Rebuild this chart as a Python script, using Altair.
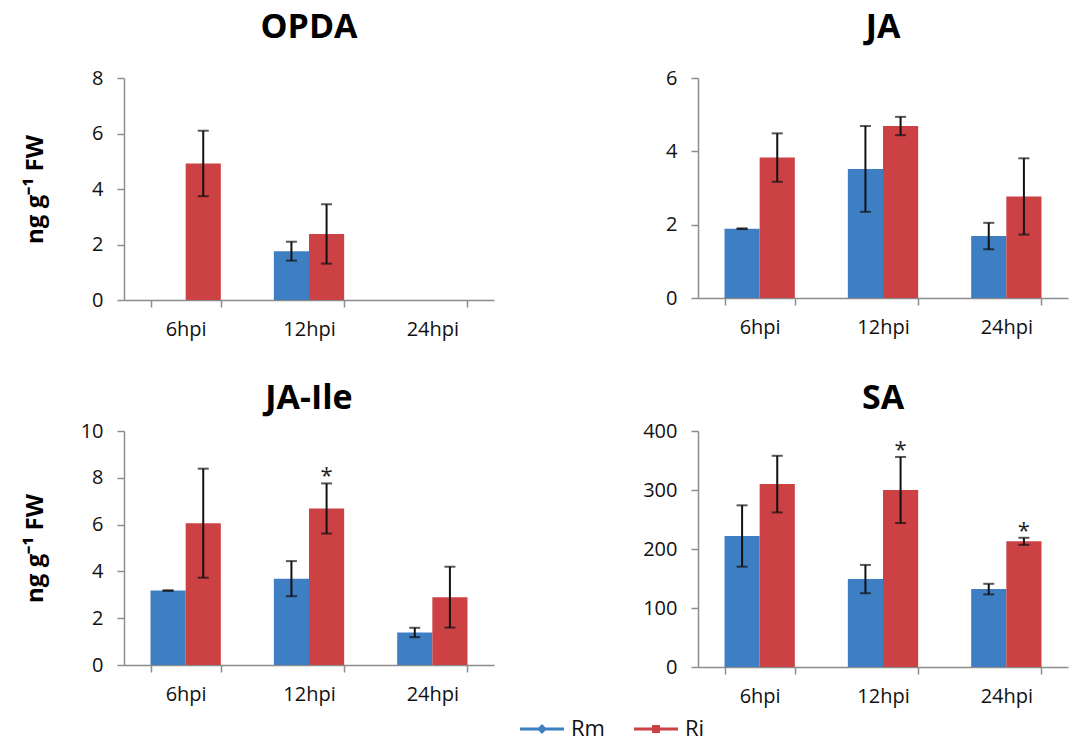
import altair as alt
import pandas as pd

times = ["6hpi", "12hpi", "24hpi"]
groups = ["Rm", "Ri"]
colors = ["#3E7EC2", "#CC4144"]

# OPDA
opda_rm = [None, 1.76, None]
opda_rm_err = [None, 0.34, None]
opda_ri = [4.92, 2.38, None]
opda_ri_err = [1.18, 1.07, None]
opda_ri_star = ["", "", ""]
opda_ticks = [0, 2, 4, 6, 8]

# JA
ja_rm = [1.89, 3.52, 1.69]
ja_rm_err = [0.01, 1.17, 0.36]
ja_ri = [3.83, 4.69, 2.77]
ja_ri_err = [0.66, 0.25, 1.04]
ja_ri_star = ["", "", ""]
ja_ticks = [0, 2, 4, 6]

# JA-Ile
jaile_rm = [3.18, 3.69, 1.39]
jaile_rm_err = [0.01, 0.75, 0.2]
jaile_ri = [6.06, 6.69, 2.90]
jaile_ri_err = [2.33, 1.07, 1.3]
jaile_ri_star = ["", "*", ""]
jaile_ticks = [0, 2, 4, 6, 8, 10]

# SA
sa_rm = [222, 149, 132]
sa_rm_err = [52, 24, 9]
sa_ri = [310, 300, 213]
sa_ri_err = [48, 56, 6]
sa_ri_star = ["", "*", "*"]
sa_ticks = [0, 100, 200, 300, 400]

FONT = "Open Sans"
YTITLE = "ng g\u207b\u00b9 FW"

RM_PATH = "M-2,-0.14L2,-0.14L2,0.14L-2,0.14Z M0,-0.45L0.45,0L0,0.45L-0.45,0Z"
RI_PATH = "M-2,-0.14L2,-0.14L2,0.14L-2,0.14Z M-0.36,-0.36L0.36,-0.36L0.36,0.36L-0.36,0.36Z"


def make_legend():
    return alt.Legend(
        title=None, orient="none", legendX=407, legendY=640, direction="horizontal",
        labelFontSize=22, labelFont=FONT, labelColor="#111", symbolSize=484,
        symbolStrokeWidth=0, symbolOpacity=1, labelOffset=18, columnPadding=29,
    )


def panel(title, rm, rm_err, ri, ri_err, ri_star, ticks, width, height, ytitle, toff):
    rows = []
    for i, t in enumerate(times):
        rows.append(dict(time=t, group="Rm", value=rm[i], err=rm_err[i], star=""))
        rows.append(dict(time=t, group="Ri", value=ri[i], err=ri_err[i], star=ri_star[i]))
    df = pd.DataFrame(rows)
    df["value"] = df["value"].astype(float)
    df["err"] = df["err"].astype(float)
    df["lo"] = df["value"] - df["err"]
    df["hi"] = df["value"] + df["err"]

    x = alt.X(
        "time:N", sort=times,
        scale=alt.Scale(paddingInner=0.43, paddingOuter=0.215),
        axis=alt.Axis(title=None, labelAngle=0, tickBand="extent", tickSize=7,
                      labelPadding=12, labelFontSize=20),
    )
    xo = alt.XOffset("group:N", sort=groups, scale=alt.Scale(paddingInner=0, paddingOuter=0))
    yaxis_kw = dict(values=ticks, tickSize=7, labelPadding=14, labelFontSize=20,
                    minExtent=65, maxExtent=65)
    if ytitle:
        yaxis = alt.Axis(title=ytitle, titleFontSize=24, titleFontWeight="bold",
                         titlePadding=12, **yaxis_kw)
    else:
        yaxis = alt.Axis(title=None, **yaxis_kw)
    yscale = alt.Scale(domain=[ticks[0], ticks[-1]], nice=False)

    color = alt.Color("group:N", sort=groups,
                      scale=alt.Scale(domain=groups, range=colors), legend=make_legend())
    shape = alt.Shape("group:N", sort=groups,
                      scale=alt.Scale(domain=groups, range=[RM_PATH, RI_PATH]),
                      legend=make_legend())

    base = alt.Chart(df)
    bars = base.mark_bar().encode(
        x=x, xOffset=xo,
        y=alt.Y("value:Q", scale=yscale, axis=yaxis),
        color=color,
    )
    keys = base.transform_filter("false").mark_point(filled=True, opacity=1).encode(
        x=x, xOffset=xo, y="value:Q", color=color, shape=shape)
    errb = base.transform_filter("isValid(datum.err)")
    rule = errb.mark_rule(color="#111", strokeWidth=2).encode(
        x=x, xOffset=xo, y="lo:Q", y2="hi:Q")
    cap_lo = errb.mark_tick(orient="horizontal", size=11, thickness=2, color="#111").encode(
        x=x, xOffset=xo, y="lo:Q")
    cap_hi = errb.mark_tick(orient="horizontal", size=11, thickness=2, color="#111").encode(
        x=x, xOffset=xo, y="hi:Q")
    star = base.transform_filter("datum.star == '*'").mark_text(
        fontSize=22, dy=0, baseline="alphabetic", color="#222", font=FONT).encode(
        x=x, xOffset=xo, y="hi:Q", text="star:N")
    return alt.layer(bars, keys, rule, cap_lo, cap_hi, star).properties(
        width=width, height=height,
        title=alt.Title(title, fontSize=34, font=FONT, fontWeight="bold",
                        anchor="middle", frame="group", offset=toff, color="#000"),
    )


p1 = panel("OPDA", opda_rm, opda_rm_err, opda_ri, opda_ri_err, opda_ri_star,
           opda_ticks, 370, 222, YTITLE, 23)
p2 = panel("JA", ja_rm, ja_rm_err, ja_ri, ja_ri_err, ja_ri_star,
           ja_ticks, 370, 220, None, 23)
p3 = panel("JA-Ile", jaile_rm, jaile_rm_err, jaile_ri, jaile_ri_err, jaile_ri_star,
           jaile_ticks, 370, 234, YTITLE, 5)
p4 = panel("SA", sa_rm, sa_rm_err, sa_ri, sa_ri_err, sa_ri_star,
           sa_ticks, 370, 236, None, 5)

chart = alt.vconcat(
    alt.hconcat(p1, p2, spacing=139),
    alt.hconcat(p3, p4, spacing=139),
    spacing=43,
    padding={"left": 15, "top": 3, "right": 5, "bottom": 5},
).configure(font=FONT).configure_axis(
    labelFont=FONT, titleFont=FONT, labelColor="#111", titleColor="#000",
    domainColor="#8c8c8c", tickColor="#8c8c8c", domainWidth=1.5, tickWidth=1.5, grid=False,
).configure_view(strokeWidth=0)

chart.save("out.html", embed_options={"renderer": "svg", "actions": False})
